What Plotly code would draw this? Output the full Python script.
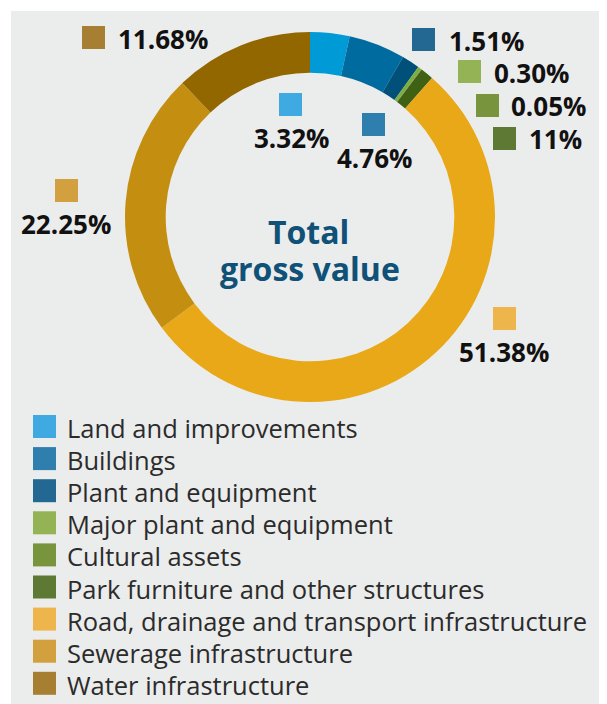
import plotly.graph_objects as go

# ---- data ----
categories = [
    "Land and improvements",
    "Buildings",
    "Plant and equipment",
    "Major plant and equipment",
    "Cultural assets",
    "Park furniture and other structures",
    "Road, drainage and transport infrastructure",
    "Sewerage infrastructure",
    "Water infrastructure",
]
values = [3.32, 4.76, 1.51, 0.30, 0.05, 1.10, 51.38, 22.25, 11.68]
value_labels = ["3.32%", "4.76%", "1.51%", "0.30%", "0.05%", "11%", "51.38%", "22.25%", "11.68%"]

# ---- styles ----
slice_colors = ["#009AD7", "#006B9F", "#00507A", "#7DAE3E", "#6A8E35",
                "#3E6113", "#E8A817", "#C48E11", "#936700"]
key_colors = ["#3FA9E1", "#2E7EAE", "#236892", "#93B354", "#78953E",
              "#5D7933", "#EDB54B", "#D3A040", "#A67F32"]

OFF = 8  # page body margin
W, H = 607 - OFF, 704 - OFF


def px(x):
    return (x - OFF) / W


def py(y):
    return 1 - (y - OFF) / H


fig = go.Figure()
fig.add_trace(go.Pie(
    labels=categories,
    values=values,
    hole=0.78,
    sort=False,
    direction="clockwise",
    rotation=0,
    marker=dict(colors=slice_colors, line=dict(width=0)),
    textinfo="none",
    hoverinfo="label+percent",
    showlegend=False,
    domain=dict(x=[px(125), px(495)], y=[py(402), py(32)]),
))

shapes = []
annotations = []

# grey panel
shapes.append(dict(type="rect", xref="paper", yref="paper", layer="below",
                   x0=px(11), x1=1.0, y0=0.0, y1=py(11),
                   fillcolor="#EBECEC", line=dict(width=0)))

SQ = 23
# data label placement: (square left, square top, text x, text y, anchor)
label_pos = [
    (279, 93, 291, 138, "center"),
    (362, 113, 374, 158, "center"),
    (412, 28, 447, 41, "left"),
    (458, 60, 492, 73, "left"),
    (476, 94, 509, 106, "left"),
    (493, 127, 527, 139, "left"),
    (493, 307, 504, 352, "center"),
    (55, 179, 66, 224, "center"),
    (82, 26, 116, 39, "left"),
]
for (sx, sy, tx, ty, anc), col, txt in zip(label_pos, key_colors, value_labels):
    shapes.append(dict(type="rect", xref="paper", yref="paper",
                       x0=px(sx), x1=px(sx + SQ), y0=py(sy + SQ), y1=py(sy),
                       fillcolor=col, line=dict(width=0)))
    annotations.append(dict(xref="paper", yref="paper", x=px(tx), y=py(ty),
                            xanchor=anc, yanchor="middle", showarrow=False,
                            text="<b>" + txt + "</b>",
                            font=dict(family="Open Sans", size=26, color="#111111")))

# center title
annotations.append(dict(xref="paper", yref="paper", x=px(308), y=py(231),
                        xanchor="center", yanchor="middle", showarrow=False,
                        text="<b>Total</b>",
                        font=dict(family="Open Sans", size=32, color="#0F5177")))
annotations.append(dict(xref="paper", yref="paper", x=px(310), y=py(268),
                        xanchor="center", yanchor="middle", showarrow=False,
                        text="<b>gross value</b>",
                        font=dict(family="Open Sans", size=32, color="#0F5177")))

# custom legend
for i, (cat, col) in enumerate(zip(categories, key_colors)):
    top = 415 + i * 32.1
    shapes.append(dict(type="rect", xref="paper", yref="paper",
                       x0=px(33), x1=px(33 + SQ), y0=py(top + SQ), y1=py(top),
                       fillcolor=col, line=dict(width=0)))
    annotations.append(dict(xref="paper", yref="paper", x=px(65), y=py(top + 13),
                            xanchor="left", yanchor="middle", showarrow=False,
                            text=cat,
                            font=dict(family="Open Sans", size=25.5, color="#2B2B2B")))

fig.update_layout(
    width=W, height=H,
    margin=dict(l=0, r=0, t=0, b=0),
    paper_bgcolor="#FFFFFF",
    plot_bgcolor="#FFFFFF",
    shapes=shapes,
    annotations=annotations,
    showlegend=False,
)

fig.write_html("out.html")
